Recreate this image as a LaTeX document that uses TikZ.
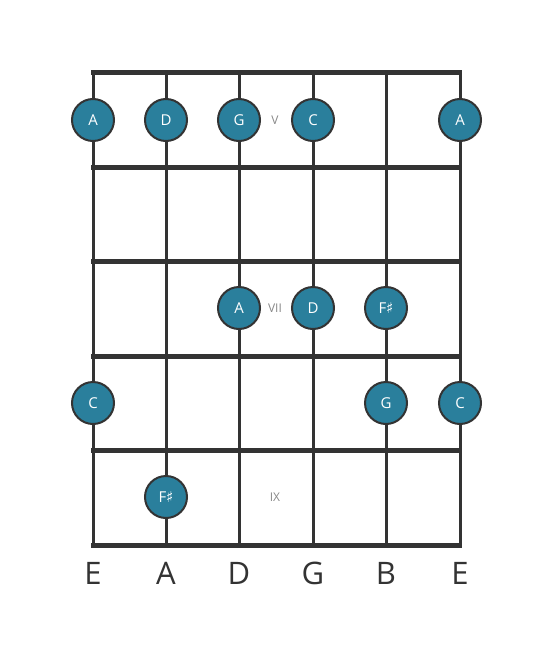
\documentclass[tikz,border=0pt]{standalone}
\usepackage{fontspec}
\setmainfont{Open Sans}
\newfontfamily\symfont{DejaVu Sans}
\usepackage{tikz}
\definecolor{lineGray}{HTML}{333333}
\definecolor{noteTeal}{HTML}{2A7F9C}
\definecolor{markGray}{HTML}{888888}
\newcommand{\shp}{{\symfont\char"266F}}

\begin{document}
\begin{tikzpicture}[x=1pt,y=-1pt]
               \tikzstyle{fret}=[line width=5pt, lineGray]
               \tikzstyle{string}=[line width=3pt, lineGray]
               \tikzstyle{note}=[circle, draw=lineGray, line width=2pt, fill=noteTeal,
                        minimum size=42pt, inner sep=0pt, text=white, font=\fontsize{15}{15}\selectfont]
               \tikzstyle{fretNum}=[markGray, font=\fontsize{12}{12}\selectfont]
               \tikzstyle{tuning}=[lineGray, font=\fontsize{31}{31}\selectfont]

               \useasboundingbox (0,0) rectangle (553,656);

               % strings
               \draw[string] (93,72) -- (93,545);
               \draw[string] (166,72) -- (166,545);
               \draw[string] (239,72) -- (239,545);
               \draw[string] (313,72) -- (313,545);
               \draw[string] (386,72) -- (386,545);
               \draw[string] (460,72) -- (460,545);

               % frets
               \draw[fret] (91,72) -- (462,72);
               \draw[fret] (91,167) -- (462,167);
               \draw[fret] (91,261) -- (462,261);
               \draw[fret] (91,356) -- (462,356);
               \draw[fret] (91,450) -- (462,450);
               \draw[fret] (91,545) -- (462,545);

               % fret numbers
               \node[fretNum] (V) at (275,120) {V};
               \node[fretNum] (VII) at (275,308) {VII};
               \node[fretNum] (IX) at (275,497) {IX};

               % notes
               \node[note] (A1) at (93,120) {A};
               \node[note] (D1) at (166,120) {D};
               \node[note] (G1) at (239,120) {G};
               \node[note] (C1) at (313,120) {C};
               \node[note] (A2) at (460,120) {A};
               \node[note] (A3) at (239,308) {A};
               \node[note] (D2) at (313,308) {D};
               \node[note] (Fs1) at (386,308) {F\shp};
               \node[note] (C2) at (93,403) {C};
               \node[note] (G2) at (386,403) {G};
               \node[note] (C3) at (460,403) {C};
               \node[note] (Fs2) at (166,497) {F\shp};

               % tuning
               \node[tuning] (tE1) at (93,573) {E};
               \node[tuning] (tA) at (166,573) {A};
               \node[tuning] (tD) at (239,573) {D};
               \node[tuning] (tG) at (313,573) {G};
               \node[tuning] (tB) at (386,573) {B};
               \node[tuning] (tE2) at (460,573) {E};
            \end{tikzpicture}
\end{document}
